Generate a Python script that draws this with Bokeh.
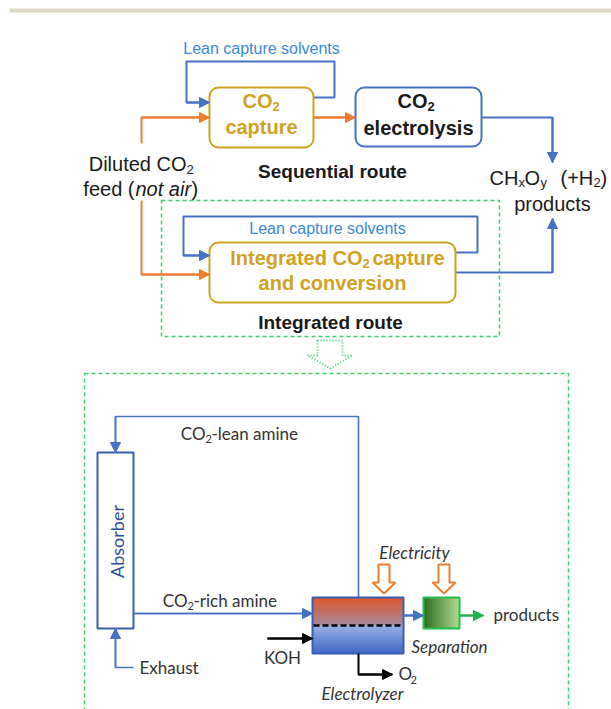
import numpy as np
from bokeh.plotting import figure
from bokeh.models import Range1d, Arrow, NormalHead
from bokeh.core.properties import value
from bokeh.embed import file_html
from bokeh.resources import INLINE

# ---------------- diagram content ----------------
TOP_FONT = "Liberation Sans"
LOW_FONT = "Lato"

BLUE = "#4472C4"
ORANGE = "#F07C2F"
GOLD = "#CFA21F"
LIGHTBLUE = "#3A8AD6"
GREEN_DASH = "#3CCF6E"
DARK = "#1a1a1a"
GREY = "#333333"

# rounded process boxes: (left, right, top, bottom, border colour)
box_left = [209, 355, 209]
box_right = [313, 481, 455]
box_top = [87, 87, 242]
box_bottom = [147, 146, 302]
box_color = [GOLD, BLUE, GOLD]

# electrolyzer gradient stops (fraction, colour)
elec_stops_top = [(0.0, "#E0552A"), (1.0, "#A48A9E")]
elec_stops_bot = [(0.0, "#9AB2E4"), (1.0, "#3E68C6")]
sep_stops = [(0.0, "#2E6B1F"), (1.0, "#B2D994")]

p = figure(width=611, height=709, x_range=Range1d(0, 611), y_range=Range1d(709, 0),
           output_backend="svg", toolbar_location=None, min_border=0,
           x_axis_type=None, y_axis_type=None)
p.grid.visible = False
p.outline_line_color = None
p.background_fill_color = "white"


def txt(x, y, s, size, color=DARK, font=TOP_FONT, style="normal", align="center", angle=0.0):
    p.text(x=[x], y=[y], text=[s], text_font=value(font), text_font_size=f"{size}px",
           text_color=color, text_font_style=style, text_align=align,
           text_baseline="middle", angle=angle)


def path(xs, ys, color, width=2.0, head=10, arrow=True):
    p.line(xs, ys, line_color=color, line_width=width)
    if arrow:
        p.add_layout(Arrow(end=NormalHead(size=head, fill_color=color, line_color=color, line_width=1),
                           x_start=xs[-2], y_start=ys[-2], x_end=xs[-1], y_end=ys[-1],
                           line_color=color, line_width=width))


def hex2rgb(h):
    h = h.lstrip("#")
    return np.array([int(h[i:i + 2], 16) for i in (0, 2, 4)], dtype=float)


def mix(c1, c2, t):
    a, b = hex2rgb(c1), hex2rgb(c2)
    c = a + (b - a) * t
    return "#%02x%02x%02x" % tuple(int(round(v)) for v in c)


def vgrad(l, r, t, b, stops, n=28):
    edges = np.linspace(t, b, n + 1)
    cols = [mix(stops[0][1], stops[-1][1], (i + 0.5) / n) for i in range(n)]
    bottoms = list(edges[1:] + 1.0)
    bottoms[-1] = b
    p.quad(left=[l] * n, right=[r] * n, top=list(edges[:-1]), bottom=bottoms,
           fill_color=cols, line_color=cols, line_width=0.5)


def hgrad(l, r, t, b, stops, n=28):
    edges = np.linspace(l, r, n + 1)
    cols = [mix(stops[0][1], stops[-1][1], (i + 0.5) / n) for i in range(n)]
    rights = list(edges[1:] + 1.0)
    rights[-1] = r
    p.quad(left=list(edges[:-1]), right=rights, top=[t] * n, bottom=[b] * n,
           fill_color=cols, line_color=cols, line_width=0.5)


def block_arrow(cx, top, shaft_bot, tip, shw, hhw, color, dash="solid", width=2.0):
    xs = [cx - shw, cx + shw, cx + shw, cx + hhw, cx, cx - hhw, cx - shw]
    ys = [top, top, shaft_bot, shaft_bot, tip, shaft_bot, shaft_bot]
    p.patch(xs, ys, fill_color="white", line_color=color, line_width=width, line_dash=dash)


# top grey rule
p.quad(left=[9], right=[611], top=[8], bottom=[12], fill_color="#DBD9C6", line_color=None)

# ---------- sequential route ----------
txt(261, 48, "Lean capture solvents", 16, LIGHTBLUE)
path([313, 334, 334, 186, 186, 209], [97, 97, 61, 61, 102, 102], BLUE)
path([141, 141, 209], [143, 117, 117], ORANGE)
path([313, 355], [117, 117], ORANGE)
path([481, 552, 552], [117, 117, 162], BLUE)

# integrated route lines
p.quad(left=[161], right=[499], top=[200], bottom=[336], fill_color=None,
       line_color=GREEN_DASH, line_width=1.5, line_dash="4 3")
path([455, 477, 477, 183, 183, 209], [252, 252, 216, 216, 255, 255], BLUE)
path([141, 141, 209], [200, 274, 274], ORANGE)
path([455, 552, 552], [272, 272, 218], BLUE)

# boxes
p.quad(left=box_left, right=box_right, top=box_top, bottom=box_bottom, fill_color="white",
       line_color=box_color, line_width=2, border_radius=9)

txt(272, 100, "CO", 20, GOLD, style="bold", align="right")
txt(272, 106, "2", 13, GOLD, style="bold", align="left")
txt(261, 126, "capture", 20, GOLD, style="bold")

txt(427, 100, "CO", 20, DARK, style="bold", align="right")
txt(427, 106, "2", 13, DARK, style="bold", align="left")
txt(418, 127, "electrolysis", 20, DARK, style="bold")

txt(186, 163, "Diluted CO", 20, DARK, align="right")
txt(186, 169, "2", 13, DARK, align="left")
txt(134, 188, "feed (", 20, DARK, align="right")
txt(135, 188, "not air", 20, DARK, style="italic", align="left")
txt(191, 188, ")", 20, DARK, align="left")

txt(332, 171, "Sequential route", 19, DARK, style="bold")

txt(327, 228, "Lean capture solvents", 16, LIGHTBLUE)
txt(362, 257, "Integrated CO", 20, GOLD, style="bold", align="right")
txt(362, 263, "2", 13, GOLD, style="bold", align="left")
txt(372, 257, "capture", 20, GOLD, style="bold", align="left")
txt(332, 282, "and conversion", 20, GOLD, style="bold")
txt(330, 322, "Integrated route", 19, DARK, style="bold")

txt(518, 177, "CH", 20, DARK, align="right")
txt(518, 182, "x", 13, DARK, align="left")
txt(524, 177, "O", 20, DARK, align="left")
txt(540, 182, "y", 13, DARK, align="left")
txt(560, 177, "(+H", 20, DARK, align="left")
txt(593, 182, "2", 13, DARK, align="left")
txt(600, 177, ")", 20, DARK, align="left")
txt(552, 203, "products", 20, DARK)

# dotted hollow arrow
block_arrow(329.5, 340, 355, 368, 12.5, 22.5, GREEN_DASH, dash="1 2", width=2)

# ---------- process detail ----------
p.quad(left=[84], right=[568], top=[373], bottom=[730], fill_color=None,
       line_color=GREEN_DASH, line_width=1.5, line_dash="4 3")

path([358, 358, 115, 115], [597, 416, 416, 452], BLUE, width=1.6)
txt(205, 433, "CO", 17, GREY, font=LOW_FONT, align="right")
txt(205, 438, "2", 11, GREY, font=LOW_FONT, align="left")
txt(211, 433, "-lean amine", 17, GREY, font=LOW_FONT, align="left")

p.quad(left=[97], right=[133], top=[452], bottom=[628], fill_color="white",
       line_color="#3A5FB0", line_width=2)
txt(116, 541, "Absorber", 18, "#2D4F9A", font=LOW_FONT, angle=np.pi / 2)

path([133, 312], [613, 613], BLUE, width=1.6)
txt(187, 600, "CO", 17, GREY, font=LOW_FONT, align="right")
txt(187, 605, "2", 11, GREY, font=LOW_FONT, align="left")
txt(193, 600, "-rich amine", 17, GREY, font=LOW_FONT, align="left")

path([133, 115, 115], [667, 667, 628], BLUE, width=1.6)
txt(139, 667, "Exhaust", 17, GREY, font=LOW_FONT, align="left")

# electrolyzer
vgrad(312, 403, 597, 625, elec_stops_top)
vgrad(312, 403, 625, 653, elec_stops_bot)
p.quad(left=[312], right=[403], top=[597], bottom=[653], fill_color=None,
       line_color="#3A5FB0", line_width=2)
p.line([313, 402], [625, 625], line_color="black", line_width=2.5, line_dash="6 3")

path([267, 312], [638, 638], "black", width=2)
txt(282, 657, "KOH", 17, GREY, font=LOW_FONT)
path([358, 358, 392], [653, 674, 674], "black", width=2)
txt(398, 673, "O", 17, GREY, font=LOW_FONT, align="left")
txt(410, 679, "2", 11, GREY, font=LOW_FONT, align="left")
txt(362, 693, "Electrolyzer", 17, GREY, font=LOW_FONT, style="italic")

block_arrow(383.5, 564, 582, 593, 5.5, 11.5, ORANGE)
block_arrow(443.5, 564, 582, 593, 5.5, 11.5, ORANGE)
txt(414, 552, "Electricity", 17, GREY, font=LOW_FONT, style="italic")

path([403, 423], [615, 615], BLUE, width=2)
hgrad(423, 459, 597, 628, sep_stops)
p.quad(left=[423], right=[459], top=[597], bottom=[628], fill_color=None,
       line_color="#22C04A", line_width=2)
path([459, 483], [615, 615], "#22B14C", width=2)
txt(493, 614, "products", 17, GREY, font=LOW_FONT, align="left")
txt(411, 646, "Separation", 17, GREY, font=LOW_FONT, style="italic", align="left")

open("out.html", "w").write(file_html(p, INLINE))
